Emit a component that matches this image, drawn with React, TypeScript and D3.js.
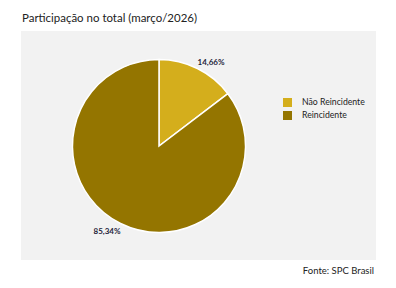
import React from "react";
import * as d3 from "d3";

const categories = ["Não Reincidente", "Reincidente"];
const values = [14.66, 85.34];
const labels = ["14,66%", "85,34%"];
const colors = ["#d4ae1c", "#947500"];

export default function App() {
  const W = 396, H = 288;
  const cx = 159, cy = 146, r = 86.5;
  const pie = d3.pie<number>().sort(null).startAngle(0).endAngle(2 * Math.PI);
  const arcs = pie(values);
  const arc = d3.arc<d3.PieArcDatum<number>>().innerRadius(0).outerRadius(r);
  const font = "Lato, 'Open Sans', sans-serif";
  const labelPos = [
    [211, 63],
    [107, 232],
  ];
  return (
    <svg width={W} height={H} style={{ position: "absolute", left: 0, top: 0 }} fontFamily={font}>
      <rect width={W} height={H} fill="#ffffff" />
      <text x={22} y={22} fontSize={12} fill="#222" textLength={175} lengthAdjust="spacingAndGlyphs">Participação no total (março/2026)</text>
      <rect x={21} y={31} width={355} height={229} fill="#f2f2f2" />
      <g transform={`translate(${cx},${cy})`}>
        {arcs.map((a, i) => (
          <path key={i} d={arc(a) || ""} fill={colors[i]} stroke="#ffffff" strokeWidth={1.5} />
        ))}
      </g>
      {labels.map((l, i) => (
        <text key={i} x={labelPos[i][0]} y={labelPos[i][1]} fontSize={8} fontWeight="bold" fill="#1f1f3a" textAnchor="middle" dominantBaseline="middle">{l}</text>
      ))}
      {categories.map((c, i) => (
        <g key={c} transform={`translate(283,${98 + i * 13})`}>
          <rect width={9} height={9} fill={colors[i]} />
          <text x={19} y={5} fontSize={8.7} fill="#222" dominantBaseline="middle">{c}</text>
        </g>
      ))}
      <text x={374} y={274} fontSize={9.5} fill="#222" textAnchor="end">Fonte: SPC Brasil</text>
    </svg>
  );
}
